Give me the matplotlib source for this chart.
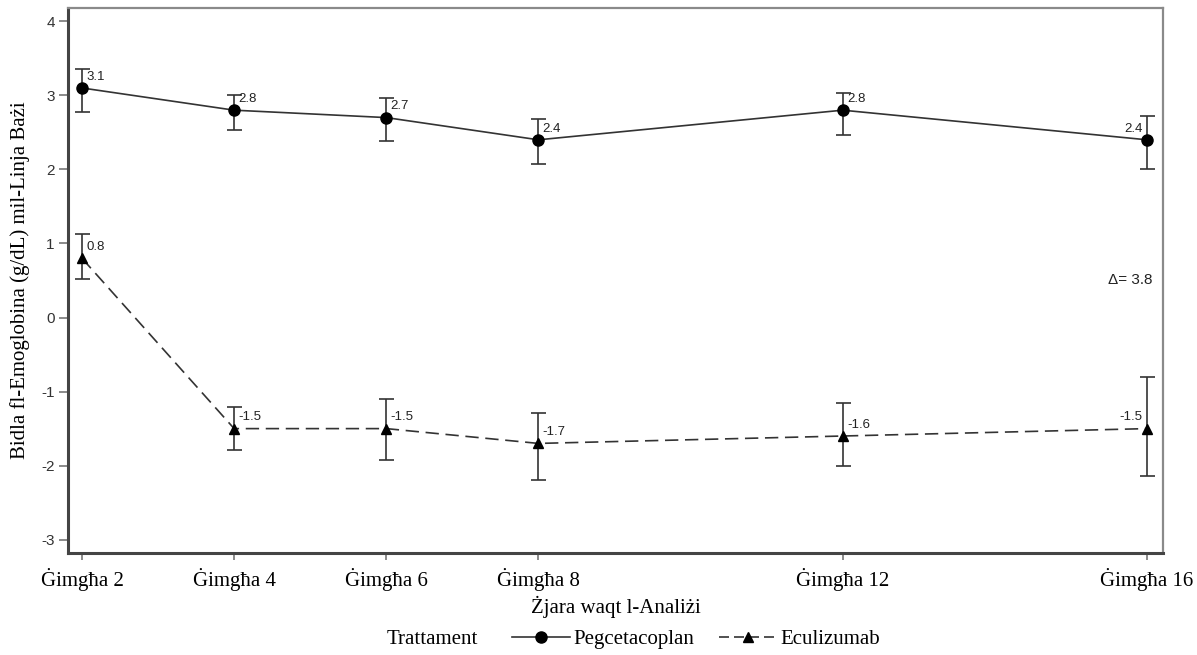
import numpy as np
import matplotlib
matplotlib.use("Agg")
import matplotlib.pyplot as plt
from matplotlib.lines import Line2D

# data
weeks = [2, 4, 6, 8, 12, 16]
week_labels = ["Ġimgħa 2", "Ġimgħa 4", "Ġimgħa 6", "Ġimgħa 8", "Ġimgħa 12", "Ġimgħa 16"]

peg_mean = [3.1, 2.8, 2.7, 2.4, 2.8, 2.4]
peg_low = [2.77, 2.53, 2.39, 2.07, 2.46, 2.00]
peg_high = [3.35, 3.01, 2.96, 2.68, 3.03, 2.72]

ecu_mean = [0.8, -1.5, -1.5, -1.7, -1.6, -1.5]
ecu_low = [0.52, -1.79, -1.92, -2.19, -2.00, -2.14]
ecu_high = [1.13, -1.21, -1.10, -1.29, -1.15, -0.80]

yticks = [-3, -2, -1, 0, 1, 2, 3, 4]
delta_text = "Δ= 3.8"

SERIF = "Liberation Serif"
SANS = "Liberation Sans"
LINE = "#333333"

fig = plt.figure(figsize=(11.97, 6.55), dpi=100)
ax = fig.add_axes([0.0568, 0.1557, 0.9148, 0.8321])

x = np.array(weeks, dtype=float)


def draw_series(mean, low, high, marker, ls, label):
    mean = np.array(mean)
    yerr = [mean - np.array(low), np.array(high) - mean]
    ax.errorbar(x, mean, yerr=yerr, fmt="none", ecolor=LINE, elinewidth=1.2,
                capsize=5.4, capthick=1.2, zorder=2)
    line, = ax.plot(x, mean, color=LINE, lw=1.2, ls=ls, marker=marker,
                    markersize=8 if marker == "o" else 7.5,
                    markerfacecolor="black", markeredgecolor="black",
                    label=label, zorder=3)
    if ls == "--":
        line.set_dashes((8, 4))
    for i, (xi, yi) in enumerate(zip(x, mean)):
        last = i == len(x) - 1  # last label sits left of the point
        ax.annotate(f"{yi:.1f}", (xi, yi),
                    xytext=(-3 if last else 3, 8), textcoords="offset points",
                    ha="right" if last else "left", va="center",
                    fontsize=9.5, family=SANS, color="#222222")
    return line


l1 = draw_series(peg_mean, peg_low, peg_high, "o", "-", "Pegcetacoplan")
l2 = draw_series(ecu_mean, ecu_low, ecu_high, "^", "--", "Eculizumab")

ax.set_xlim(1.816, 16.21)
ax.set_ylim(-3.18, 4.18)

ax.set_xticks(weeks)
ax.set_xticklabels(week_labels, family=SERIF, fontsize=15)
ax.set_yticks(yticks)
ax.set_yticklabels([str(v) for v in yticks], family=SANS, fontsize=11, color="#333333")
ax.tick_params(axis="x", direction="out", length=5, width=1.2, color="#777777", pad=6)
ax.tick_params(axis="y", direction="out", length=6.5, width=1.2, color="#777777", pad=3)

for side in ["left", "bottom"]:
    ax.spines[side].set_linewidth(2.2)
    ax.spines[side].set_color("#444444")
for side in ["top", "right"]:
    ax.spines[side].set_linewidth(1.6)
    ax.spines[side].set_color("#8a8a8a")

ax.set_ylabel("Bidla fl-Emoglobina (g/dL) mil-Linja Bażi", family=SERIF, fontsize=15)
ax.yaxis.set_label_coords(-0.044, 0.5)
ax.yaxis.label.set_verticalalignment("center")
ax.set_xlabel("Żjara waqt l-Analiżi", family=SERIF, fontsize=15)
ax.xaxis.set_label_coords(0.5, -0.099)
ax.xaxis.label.set_verticalalignment("center")

ax.annotate(delta_text, xy=(0.99, 1 - (280 - 8) / 545), xycoords="axes fraction",
            ha="right", va="center", fontsize=11, family=SANS, color="#222222")

# legend row
fig.text(478 / 1197, 1 - 639 / 655, "Trattament", ha="right", va="center",
         family=SERIF, fontsize=15)
h1 = Line2D([], [], color=LINE, lw=1.2, marker="o", markersize=8,
            markerfacecolor="black", markeredgecolor="black")
h2 = Line2D([], [], color=LINE, lw=1.2, ls="--", dashes=(6, 3), marker="^", markersize=7.5,
            markerfacecolor="black", markeredgecolor="black")
fig.legend([h1, h2], ["Pegcetacoplan", "Eculizumab"], loc="center left",
           bbox_to_anchor=(512 / 1197, 1 - 639 / 655), ncol=2, frameon=False,
           prop={"family": SERIF, "size": 15}, handlelength=2.8,
           handletextpad=0.15, columnspacing=1.2, borderaxespad=0, borderpad=0)

fig.savefig("out.png", dpi=100)
